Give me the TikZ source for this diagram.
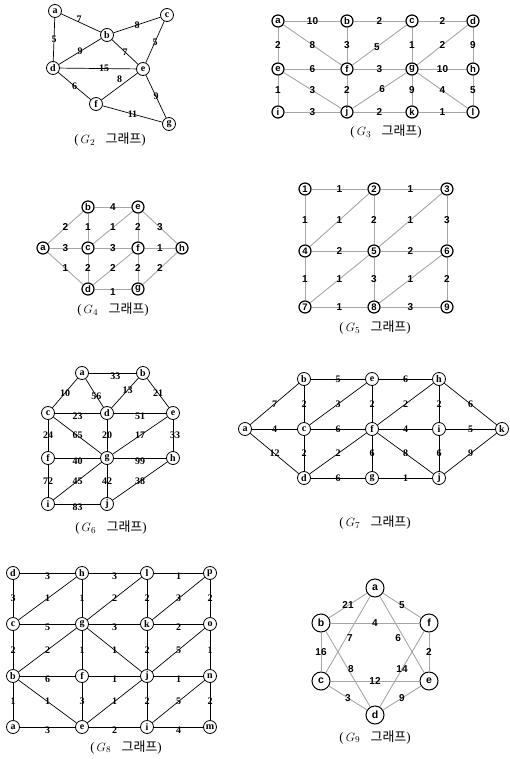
\documentclass[tikz,border=0pt]{standalone}
\usepackage{fontspec}
\setmainfont{Liberation Serif}
\setsansfont{Liberation Sans}
\newfontfamily\kofont{Noto Sans CJK KR}
\usepackage{tikz}
\usetikzlibrary{shapes,arrows,positioning}

\newcommand{\gcap}[1]{(\,$G_{#1}$\hspace{0.8em}{\kofont 그래프})}

\begin{document}
\begin{tikzpicture}[x=1pt, y=-1pt,
    snode/.style={circle, draw, line width=0.8pt, inner sep=0pt, minimum size=13pt, font=\bfseries\fontsize{10}{10}\selectfont},
    hnode/.style={circle, draw, line width=1.2pt, inner sep=0pt, minimum size=12pt, font=\sffamily\bfseries\fontsize{9.5}{9.5}\selectfont},
    bignode/.style={circle, draw, line width=1pt, inner sep=0pt, minimum size=18pt, font=\sffamily\bfseries\fontsize{10.5}{10.5}\selectfont},
    bedge/.style={draw=black, line width=0.7pt},
    gedge/.style={draw=black!35, line width=0.9pt},
    slabel/.style={inner sep=1pt, font=\bfseries\fontsize{10}{10}\selectfont},
    lowlabel/.style={slabel, yshift=-3pt},
    hlabel/.style={inner sep=1pt, font=\sffamily\bfseries\fontsize{10}{10}\selectfont},
    caption/.style={font=\fontsize{13}{13}\selectfont}]

    \useasboundingbox (0,0) rectangle (509,759);

    % G2
    \node[snode] (a2) at (55,11) {a};
    \node[snode] (b2) at (107,35) {b};
    \node[snode] (c2) at (167,15) {c};
    \node[snode] (d2) at (53,68) {d};
    \node[snode] (e2) at (143,69) {e};
    \node[snode] (f2) at (96,104) {f};
    \node[snode] (g2) at (169,124) {g};
    \node[caption] (cap2) at (110,140) {\gcap{2}};

    \draw[bedge] (a2) -- node[slabel, pos=.45, yshift=3pt] {7} (b2);
    \draw[bedge] (b2) -- node[slabel] {8} (c2);
    \draw[bedge] (a2) -- node[slabel] {5} (d2);
    \draw[bedge] (b2) -- node[slabel] {9} (d2);
    \draw[bedge] (b2) -- node[slabel] {7} (e2);
    \draw[bedge] (c2) -- node[slabel] {5} (e2);
    \draw[bedge] (d2) -- node[slabel, pos=.58] {15} (e2);
    \draw[bedge] (e2) -- node[slabel, yshift=7pt] {8} (f2);
    \draw[bedge] (d2) -- node[slabel] {6} (f2);
    \draw[bedge] (e2) -- node[slabel] {9} (g2);
    \draw[bedge] (f2) -- node[slabel] {11} (g2);

    % G3
    \node[hnode] (a3) at (278,21) {a};
    \node[hnode] (b3) at (347,21) {b};
    \node[hnode] (c3) at (412,21) {c};
    \node[hnode] (d3) at (473,21) {d};
    \node[hnode] (e3) at (278,69) {e};
    \node[hnode] (f3) at (347,69) {f};
    \node[hnode] (g3) at (412,69) {g};
    \node[hnode] (h3) at (473,69) {h};
    \node[hnode] (i3) at (278,112) {i};
    \node[hnode] (j3) at (347,112) {j};
    \node[hnode] (k3) at (412,112) {k};
    \node[hnode] (l3) at (473,112) {l};
    \node[caption] (cap3) at (386,132) {\gcap{3}};

    \draw[gedge] (a3) -- node[hlabel] {10} (b3);
    \draw[gedge] (b3) -- node[hlabel] {2} (c3);
    \draw[gedge] (c3) -- node[hlabel] {2} (d3);
    \draw[gedge] (a3) -- node[hlabel] {2} (e3);
    \draw[gedge] (a3) -- node[hlabel] {8} (f3);
    \draw[gedge] (b3) -- node[hlabel] {3} (f3);
    \draw[gedge] (c3) -- node[hlabel, pos=.55] {5} (f3);
    \draw[gedge] (c3) -- node[hlabel] {1} (g3);
    \draw[gedge] (d3) -- node[hlabel] {2} (g3);
    \draw[gedge] (d3) -- node[hlabel] {9} (h3);
    \draw[gedge] (e3) -- node[hlabel] {6} (f3);
    \draw[gedge] (f3) -- node[hlabel] {3} (g3);
    \draw[gedge] (g3) -- node[hlabel] {10} (h3);
    \draw[gedge] (e3) -- node[hlabel] {1} (i3);
    \draw[gedge] (e3) -- node[hlabel] {3} (j3);
    \draw[gedge] (f3) -- node[hlabel] {2} (j3);
    \draw[gedge] (g3) -- node[hlabel, pos=.45] {6} (j3);
    \draw[gedge] (g3) -- node[hlabel] {9} (k3);
    \draw[gedge] (g3) -- node[hlabel] {4} (l3);
    \draw[gedge] (h3) -- node[hlabel] {5} (l3);
    \draw[gedge] (i3) -- node[hlabel] {3} (j3);
    \draw[gedge] (j3) -- node[hlabel] {2} (k3);
    \draw[gedge] (k3) -- node[hlabel] {1} (l3);

    % G4
    \node[hnode] (a4) at (43,248) {a};
    \node[hnode] (b4) at (88,207) {b};
    \node[hnode] (c4) at (88,248) {c};
    \node[hnode] (d4) at (88,289) {d};
    \node[hnode] (e4) at (138,207) {e};
    \node[hnode] (f4) at (138,248) {f};
    \node[hnode] (g4) at (138,289) {g};
    \node[hnode] (h4) at (182,248) {h};
    \node[caption] (cap4) at (113,310) {\gcap{4}};

    \draw[gedge] (a4) -- node[hlabel] {2} (b4);
    \draw[gedge] (b4) -- node[hlabel] {4} (e4);
    \draw[gedge] (b4) -- node[hlabel] {1} (c4);
    \draw[gedge] (c4) -- node[hlabel] {1} (e4);
    \draw[gedge] (e4) -- node[hlabel] {2} (f4);
    \draw[gedge] (e4) -- node[hlabel] {3} (h4);
    \draw[gedge] (a4) -- node[hlabel] {3} (c4);
    \draw[gedge] (c4) -- node[hlabel] {3} (f4);
    \draw[gedge] (f4) -- node[hlabel] {1} (h4);
    \draw[gedge] (a4) -- node[hlabel] {1} (d4);
    \draw[gedge] (c4) -- node[hlabel] {2} (d4);
    \draw[gedge] (d4) -- node[hlabel] {2} (f4);
    \draw[gedge] (f4) -- node[hlabel] {2} (g4);
    \draw[gedge] (g4) -- node[hlabel] {2} (h4);
    \draw[gedge] (d4) -- node[hlabel, yshift=-3pt] {1} (g4);

    % G5
    \node[hnode] (n1) at (305,189) {1};
    \node[hnode] (n2) at (374,189) {2};
    \node[hnode] (n3) at (447,189) {3};
    \node[hnode] (n4) at (305,251) {4};
    \node[hnode] (n5) at (374,251) {5};
    \node[hnode] (n6) at (447,251) {6};
    \node[hnode] (n7) at (305,307) {7};
    \node[hnode] (n8) at (374,307) {8};
    \node[hnode] (n9) at (447,307) {9};
    \node[caption] (cap5) at (375,328) {\gcap{5}};

    \draw[gedge] (n1) -- node[hlabel] {1} (n2);
    \draw[gedge] (n2) -- node[hlabel] {1} (n3);
    \draw[gedge] (n1) -- node[hlabel] {1} (n4);
    \draw[gedge] (n2) -- node[hlabel] {1} (n4);
    \draw[gedge] (n2) -- node[hlabel] {2} (n5);
    \draw[gedge] (n3) -- node[hlabel] {1} (n5);
    \draw[gedge] (n3) -- node[hlabel] {3} (n6);
    \draw[gedge] (n4) -- node[hlabel] {2} (n5);
    \draw[gedge] (n5) -- node[hlabel] {2} (n6);
    \draw[gedge] (n4) -- node[hlabel] {1} (n7);
    \draw[gedge] (n5) -- node[hlabel] {1} (n7);
    \draw[gedge] (n5) -- node[hlabel] {3} (n8);
    \draw[gedge] (n6) -- node[hlabel] {1} (n8);
    \draw[gedge] (n6) -- node[hlabel] {2} (n9);
    \draw[gedge] (n7) -- node[hlabel] {1} (n8);
    \draw[gedge] (n8) -- node[hlabel] {3} (n9);

    % G6
    \node[snode] (a6) at (82,373) {a};
    \node[snode] (b6) at (143,373) {b};
    \node[snode] (c6) at (48,413) {c};
    \node[snode] (d6) at (107,413) {d};
    \node[snode] (e6) at (173,413) {e};
    \node[snode] (f6) at (48,458) {f};
    \node[snode] (g6) at (107,458) {g};
    \node[snode] (h6) at (173,458) {h};
    \node[snode] (i6) at (48,504) {i};
    \node[snode] (j6) at (107,504) {j};
    \node[caption] (cap6) at (111,528) {\gcap{6}};

    \draw[bedge] (a6) -- node[lowlabel, pos=.56] {33} (b6);
    \draw[bedge] (a6) -- node[slabel] {10} (c6);
    \draw[bedge] (a6) -- node[slabel, pos=.6] {56} (d6);
    \draw[bedge] (b6) -- node[slabel, pos=.4] {13} (d6);
    \draw[bedge] (b6) -- node[slabel] {21} (e6);
    \draw[bedge] (c6) -- node[lowlabel] {23} (d6);
    \draw[bedge] (d6) -- node[lowlabel] {51} (e6);
    \draw[bedge] (c6) -- node[slabel] {24} (f6);
    \draw[bedge] (c6) -- node[slabel] {65} (g6);
    \draw[bedge] (d6) -- node[slabel] {20} (g6);
    \draw[bedge] (e6) -- node[slabel] {17} (g6);
    \draw[bedge] (e6) -- node[slabel, xshift=2pt] {33} (h6);
    \draw[bedge] (f6) -- node[lowlabel] {40} (g6);
    \draw[bedge] (g6) -- node[lowlabel] {99} (h6);
    \draw[bedge] (f6) -- node[slabel] {72} (i6);
    \draw[bedge] (g6) -- node[slabel] {45} (i6);
    \draw[bedge] (g6) -- node[slabel] {42} (j6);
    \draw[bedge] (h6) -- node[slabel] {38} (j6);
    \draw[bedge] (i6) -- node[lowlabel] {83} (j6);

    % G7
    \node[snode] (a7) at (245,429) {a};
    \node[snode] (b7) at (304,379) {b};
    \node[snode] (c7) at (304,429) {c};
    \node[snode] (d7) at (304,478) {d};
    \node[snode] (e7) at (372,379) {e};
    \node[snode] (f7) at (372,429) {f};
    \node[snode] (g7) at (372,478) {g};
    \node[snode] (h7) at (439,379) {h};
    \node[snode] (i7) at (439,429) {i};
    \node[snode] (j7) at (439,478) {j};
    \node[snode] (k7) at (502,429) {k};
    \node[caption] (cap7) at (375,523) {\gcap{7}};

    \draw[bedge] (a7) -- node[slabel] {7} (b7);
    \draw[bedge] (a7) -- node[slabel] {4} (c7);
    \draw[bedge] (a7) -- node[slabel] {12} (d7);
    \draw[bedge] (b7) -- node[slabel] {5} (e7);
    \draw[bedge] (b7) -- node[slabel] {2} (c7);
    \draw[bedge] (c7) -- node[slabel] {3} (e7);
    \draw[bedge] (e7) -- node[slabel] {6} (h7);
    \draw[bedge] (e7) -- node[slabel] {2} (f7);
    \draw[bedge] (f7) -- node[slabel] {2} (h7);
    \draw[bedge] (h7) -- node[slabel] {2} (i7);
    \draw[bedge] (h7) -- node[slabel] {6} (k7);
    \draw[bedge] (c7) -- node[slabel] {6} (f7);
    \draw[bedge] (f7) -- node[slabel] {4} (i7);
    \draw[bedge] (i7) -- node[slabel] {5} (k7);
    \draw[bedge] (c7) -- node[slabel] {2} (d7);
    \draw[bedge] (d7) -- node[slabel] {2} (f7);
    \draw[bedge] (f7) -- node[slabel] {6} (g7);
    \draw[bedge] (f7) -- node[slabel] {8} (j7);
    \draw[bedge] (i7) -- node[slabel] {6} (j7);
    \draw[bedge] (j7) -- node[slabel] {9} (k7);
    \draw[bedge] (d7) -- node[slabel] {6} (g7);
    \draw[bedge] (g7) -- node[slabel] {1} (j7);

    % G8
    \node[snode] (d8) at (13,573) {d};
    \node[snode] (h8) at (82,573) {h};
    \node[snode] (l8) at (147,573) {l};
    \node[snode] (p8) at (210,573) {p};
    \node[snode] (c8) at (13,624) {c};
    \node[snode] (g8) at (82,624) {g};
    \node[snode] (k8) at (147,624) {k};
    \node[snode] (o8) at (210,624) {o};
    \node[snode] (b8) at (13,676) {b};
    \node[snode] (f8) at (82,676) {f};
    \node[snode] (j8) at (147,676) {j};
    \node[snode] (n8) at (210,676) {n};
    \node[snode] (a8) at (13,727) {a};
    \node[snode] (e8) at (82,727) {e};
    \node[snode] (i8) at (147,727) {i};
    \node[snode] (m8) at (210,727) {m};
    \node[caption] (cap8) at (126,747) {\gcap{8}};

    \draw[bedge] (d8) -- node[lowlabel] {3} (h8);
    \draw[bedge] (h8) -- node[lowlabel] {3} (l8);
    \draw[bedge] (l8) -- node[lowlabel] {1} (p8);
    \draw[bedge] (d8) -- node[slabel] {3} (c8);
    \draw[bedge] (c8) -- node[slabel] {1} (h8);
    \draw[bedge] (h8) -- node[slabel] {1} (g8);
    \draw[bedge] (g8) -- node[slabel] {2} (l8);
    \draw[bedge] (l8) -- node[slabel] {2} (k8);
    \draw[bedge] (k8) -- node[slabel] {3} (p8);
    \draw[bedge] (p8) -- node[slabel] {2} (o8);
    \draw[bedge] (c8) -- node[lowlabel] {5} (g8);
    \draw[bedge] (g8) -- node[lowlabel] {3} (k8);
    \draw[bedge] (k8) -- node[lowlabel] {2} (o8);
    \draw[bedge] (c8) -- node[slabel] {2} (b8);
    \draw[bedge] (b8) -- node[slabel] {2} (g8);
    \draw[bedge] (g8) -- node[slabel] {1} (f8);
    \draw[bedge] (g8) -- node[slabel] {1} (j8);
    \draw[bedge] (k8) -- node[slabel] {2} (j8);
    \draw[bedge] (j8) -- node[slabel] {5} (o8);
    \draw[bedge] (o8) -- node[slabel] {1} (n8);
    \draw[bedge] (b8) -- node[lowlabel] {6} (f8);
    \draw[bedge] (f8) -- node[lowlabel] {1} (j8);
    \draw[bedge] (j8) -- node[lowlabel] {1} (n8);
    \draw[bedge] (b8) -- node[slabel] {1} (a8);
    \draw[bedge] (b8) -- node[slabel] {1} (e8);
    \draw[bedge] (f8) -- node[slabel] {3} (e8);
    \draw[bedge] (e8) -- node[slabel] {1} (j8);
    \draw[bedge] (j8) -- node[slabel] {2} (i8);
    \draw[bedge] (i8) -- node[slabel] {5} (n8);
    \draw[bedge] (n8) -- node[slabel] {2} (m8);
    \draw[bedge] (a8) -- node[lowlabel] {3} (e8);
    \draw[bedge] (e8) -- node[lowlabel] {2} (i8);
    \draw[bedge] (i8) -- node[lowlabel] {4} (m8);

    % G9
    \node[bignode] (a9) at (375,588) {a};
    \node[bignode] (b9) at (321,623) {b};
    \node[bignode] (f9) at (429,623) {f};
    \node[bignode] (c9) at (321,681) {c};
    \node[bignode] (e9) at (429,681) {e};
    \node[bignode] (d9) at (375,715) {d};
    \node[caption] (cap9) at (375,737) {\gcap{9}};

    \draw[gedge] (a9) -- node[hlabel] {21} (b9);
    \draw[gedge] (a9) -- node[hlabel] {5} (f9);
    \draw[gedge] (b9) -- node[hlabel] {4} (f9);
    \draw[gedge] (a9) -- node[hlabel, pos=.55, xshift=4pt] {7} (c9);
    \draw[gedge] (a9) -- node[hlabel, pos=.55, xshift=-6pt] {6} (e9);
    \draw[gedge] (b9) -- node[hlabel] {16} (c9);
    \draw[gedge] (f9) -- node[hlabel] {2} (e9);
    \draw[gedge] (b9) -- node[hlabel, xshift=3pt] {8} (d9);
    \draw[gedge] (f9) -- node[hlabel] {14} (d9);
    \draw[gedge] (c9) -- node[hlabel] {12} (e9);
    \draw[gedge] (c9) -- node[hlabel] {3} (d9);
    \draw[gedge] (e9) -- node[hlabel] {9} (d9);
\end{tikzpicture}
\end{document}
